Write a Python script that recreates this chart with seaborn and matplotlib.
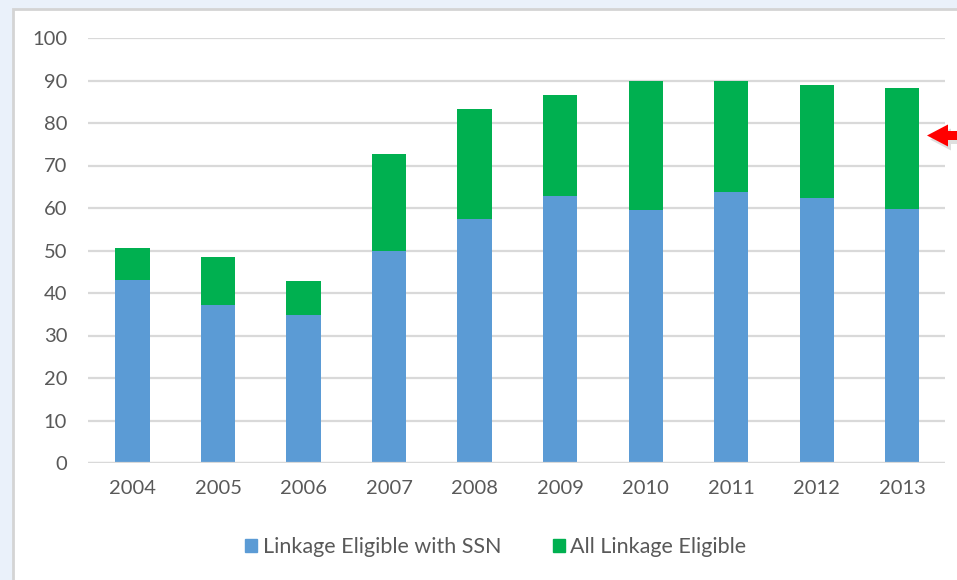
import pandas as pd
import matplotlib.pyplot as plt
import seaborn as sns
from matplotlib.patches import Rectangle, Patch, Polygon
from matplotlib.transforms import IdentityTransform

# values
years = ["2004", "2005", "2006", "2007", "2008", "2009", "2010", "2011", "2012", "2013"]
with_ssn = [43.1, 37.2, 34.8, 49.9, 57.4, 62.8, 59.5, 63.8, 62.4, 59.8]
all_eligible = [50.6, 48.5, 42.8, 72.7, 83.3, 86.6, 89.9, 89.9, 88.9, 88.2]
yticks = [0, 10, 20, 30, 40, 50, 60, 70, 80, 90, 100]

df = pd.DataFrame({"year": years, "ssn": with_ssn, "all": all_eligible})

blue = "#5B9BD5"
green = "#00B050"
grey_text = "#595959"

sns.set_style("white")
plt.rcParams["font.family"] = ["Lato", "DejaVu Sans"]

fig = plt.figure(figsize=(9.57, 5.8), dpi=100)
fig.patch.set_facecolor("#EAF1FA")
# white chart panel with a grey border
fig.patches.append(Rectangle((13 / 957, -0.05), 1.0, 1 - 9 / 580 + 0.05,
                             transform=fig.transFigure, facecolor="white",
                             edgecolor="#D4D4D4", linewidth=2, zorder=-5))

ax = fig.add_axes([88 / 957, 1 - 463 / 580, (945 - 88) / 957, (463 - 38) / 580])
ax.set_facecolor("none")

# total first (green), then the SSN part over it (blue)
sns.barplot(data=df, x="year", y="all", color=green, width=0.4, saturation=1,
            linewidth=0, ax=ax, zorder=3)
sns.barplot(data=df, x="year", y="ssn", color=blue, width=0.4, saturation=1,
            linewidth=0, ax=ax, zorder=4)

ax.set_xlim(-0.52, 9.5)
ax.set_ylim(0, 100)
ax.set_yticks(yticks)
ax.yaxis.grid(True, color="#D9D9D9", linewidth=1.6, zorder=0)
ax.set_axisbelow(True)
for s in ax.spines.values():
    s.set_visible(False)
ax.axhline(0, color="#D9D9D9", linewidth=1.6, zorder=5)
ax.tick_params(axis="both", length=0, labelsize=14.5, labelcolor=grey_text)
ax.tick_params(axis="y", pad=15)
ax.tick_params(axis="x", pad=12)
ax.set_xlabel("")
ax.set_ylabel("")

handles = [Patch(color=blue, label="Linkage Eligible with SSN"),
           Patch(color=green, label="All Linkage Eligible")]
fig.legend(handles=handles, loc="center", bbox_to_anchor=(0.518, 1 - 547 / 580),
           ncol=2, frameon=False, fontsize=15.5, labelcolor=grey_text,
           handlelength=0.55, handleheight=0.55, handletextpad=0.25, columnspacing=2.4)

# red arrow pointing at the 2013 bar (pixel coordinates, y measured from top)
arrow = [(927, 135.5), (948, 124.5), (948, 131), (962, 131),
         (962, 140), (948, 140), (948, 146.5)]
H = 580
shadow = Polygon([(x + 3, H - y - 4) for x, y in arrow], closed=True,
                 transform=IdentityTransform(), facecolor="#808080", alpha=0.25,
                 edgecolor="none", zorder=9)
red = Polygon([(x, H - y) for x, y in arrow], closed=True,
              transform=IdentityTransform(), facecolor="#FF0000",
              edgecolor="none", zorder=10)
fig.add_artist(shadow)
fig.add_artist(red)

fig.savefig("out.png", dpi=100, facecolor=fig.get_facecolor())
